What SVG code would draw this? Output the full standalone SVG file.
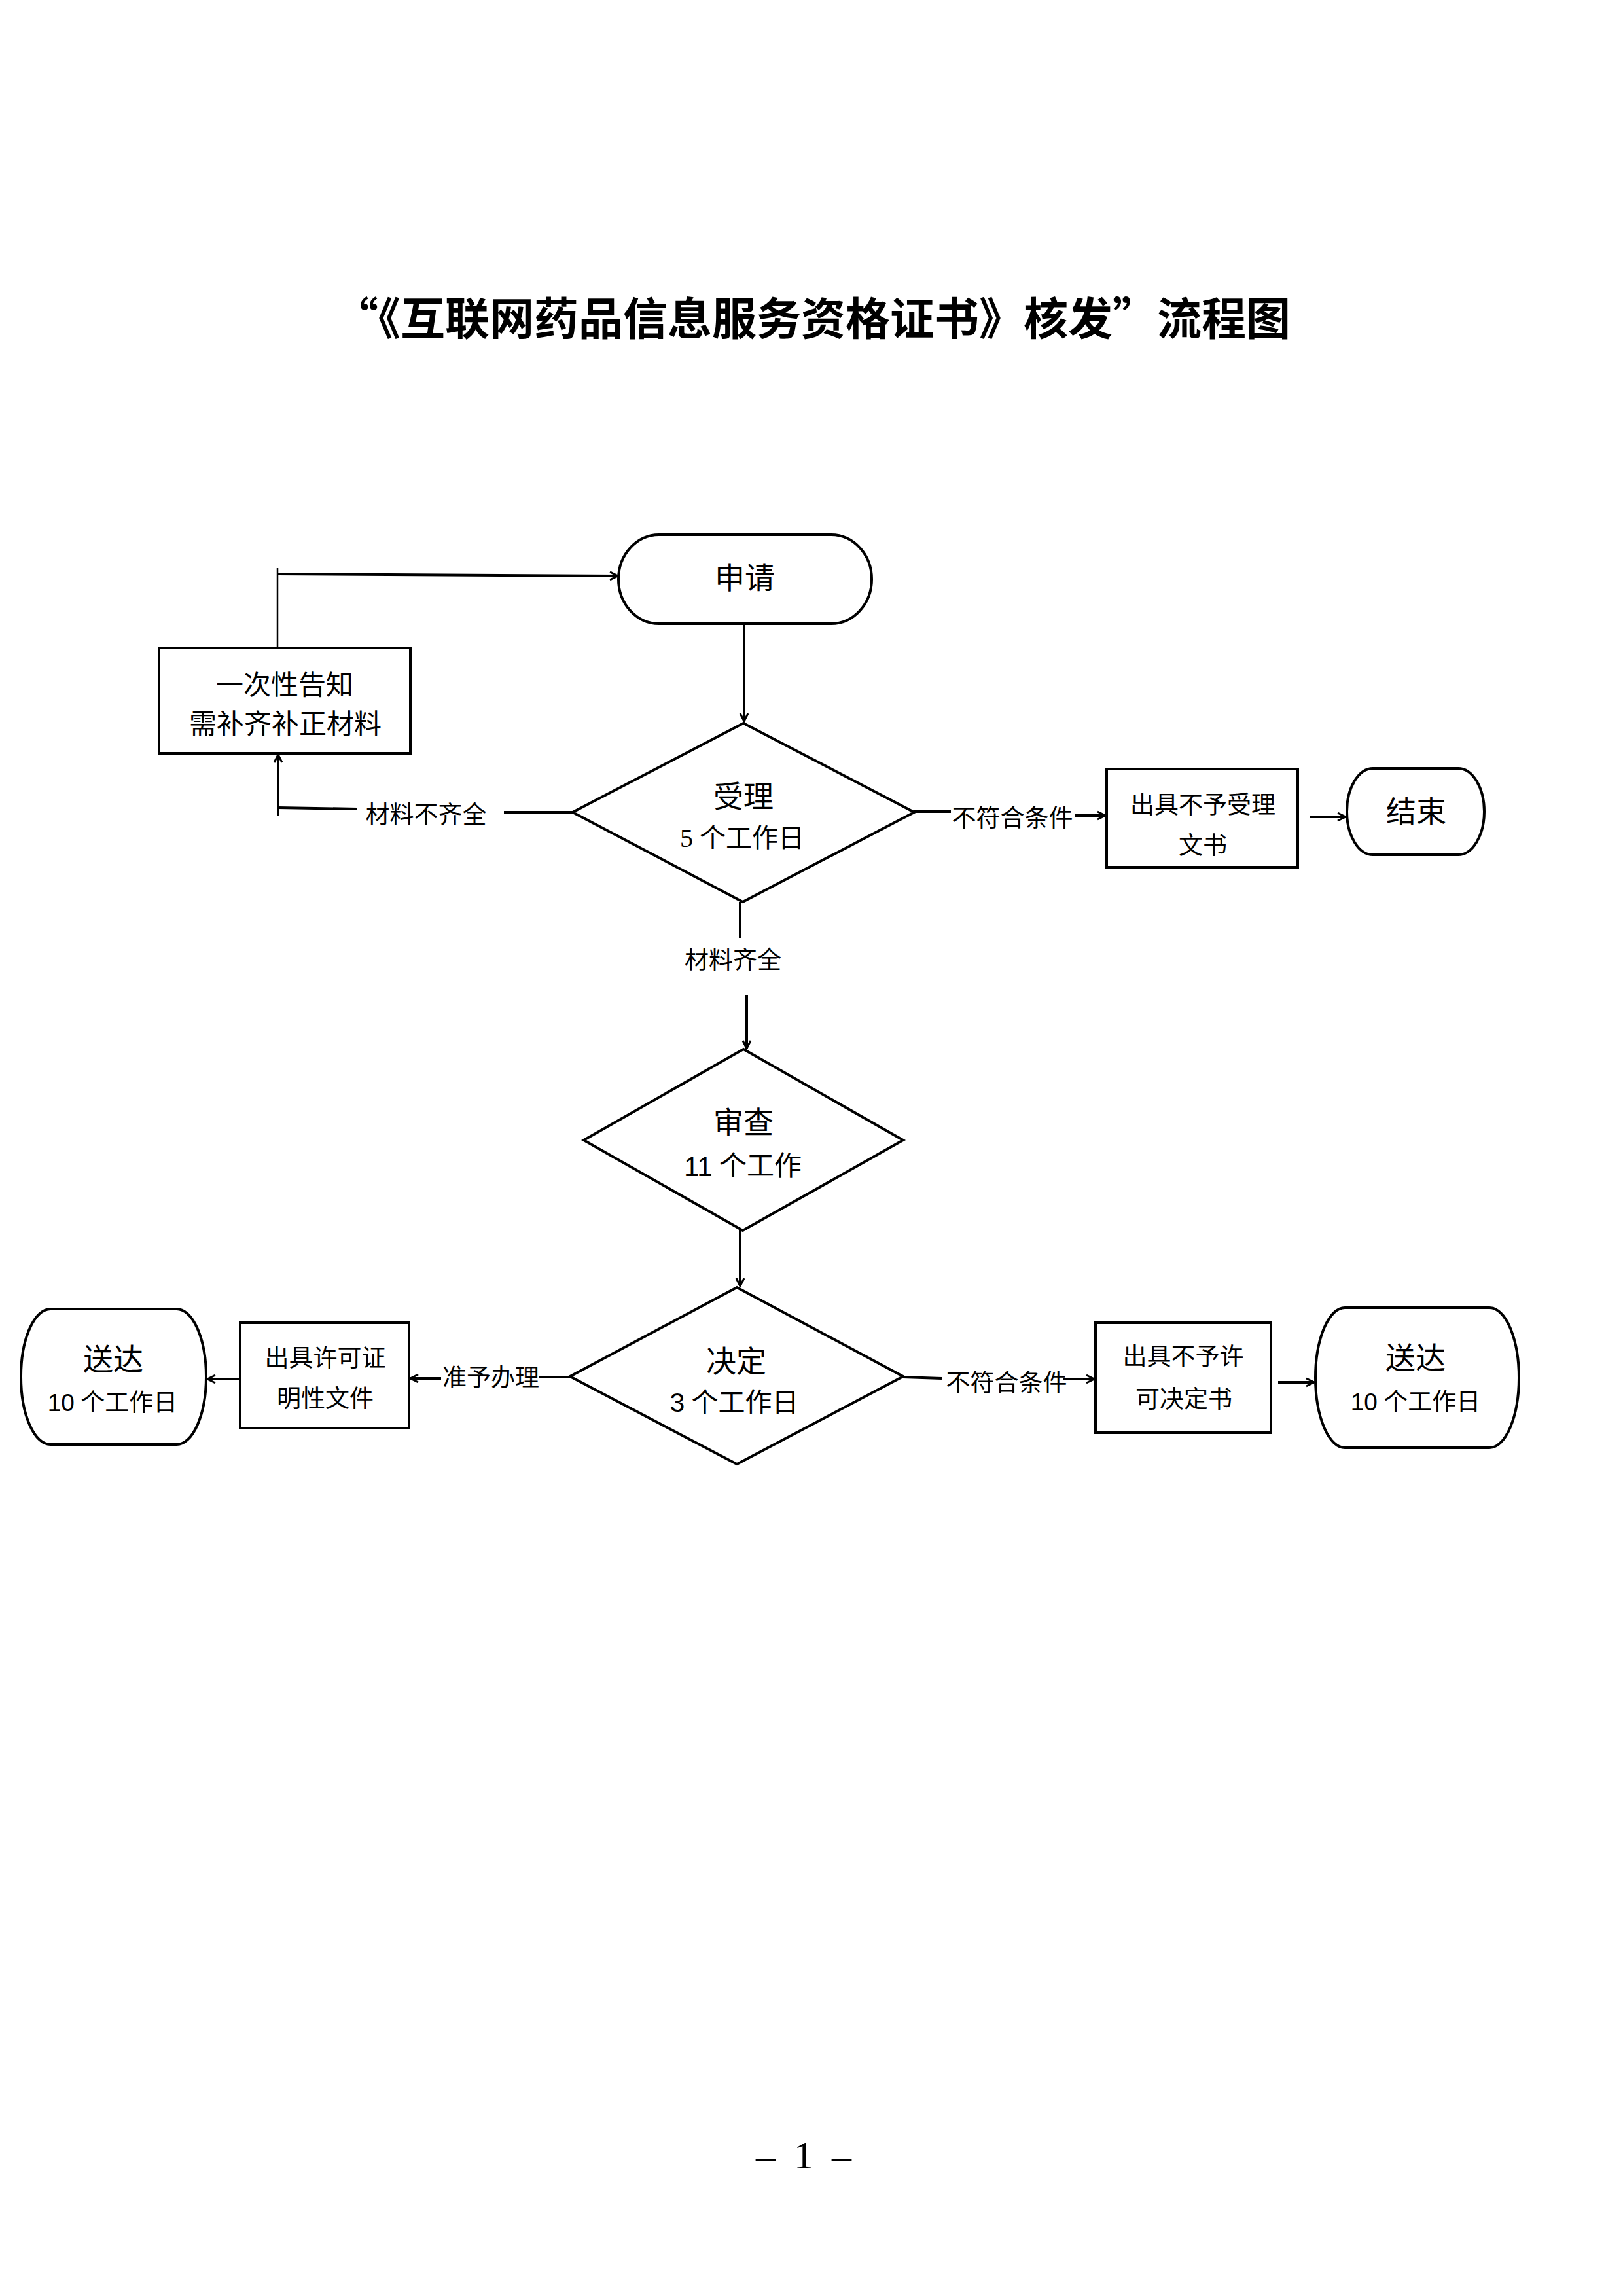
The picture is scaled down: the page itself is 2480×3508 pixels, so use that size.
<svg xmlns="http://www.w3.org/2000/svg" width="2480" height="3508" viewBox="0 0 2480 3508">
<style>
.bg{fill:#fff}
.shape{fill:#fff;stroke:#000;stroke-width:4}
.line{fill:none;stroke:#000;stroke-width:4}
.thin{fill:none;stroke:#000;stroke-width:2.5}
.cjk{font-family:"Liberation Serif","Noto Sans CJK SC",serif;fill:#000;text-anchor:middle;dominant-baseline:central}
.title{font-family:"Noto Sans CJK SC",sans-serif;font-weight:bold;font-size:68px;fill:#000;text-anchor:middle}
.big{font-size:46px}
.mid{font-size:42px}
.sm{font-size:37px}
.sans{font-family:"Liberation Sans","Noto Sans CJK SC",sans-serif}
.page{font-family:"Liberation Serif",serif;font-size:60px;fill:#000;text-anchor:middle}
</style>
<defs>
<marker id="arr" viewBox="0 0 16 16" refX="14" refY="8" markerWidth="16" markerHeight="16" markerUnits="userSpaceOnUse" orient="auto">
<path d="M2,2 L14,8 L2,14" fill="none" stroke="#000" stroke-width="3"/>
</marker>
</defs>
<rect class="bg" x="0" y="0" width="2480" height="3508"/>
<text class="title" x="1241" y="512">“《互联网药品信息服务资格证书》核发”流程图</text>

<g id="connectors">
<line class="thin" x1="1137" y1="955" x2="1137" y2="1102" marker-end="url(#arr)"/>
<line class="line" x1="877" y1="1241" x2="770" y2="1241"/>
<text class="cjk sm" x="651" y="1245">材料不齐全</text>
<line class="line" x1="546" y1="1236" x2="425" y2="1234"/>
<line class="thin" x1="425" y1="1246" x2="425" y2="1153" marker-end="url(#arr)"/>
<line class="thin" x1="424" y1="990" x2="424" y2="868"/>
<line class="line" x1="424" y1="877" x2="944" y2="880" marker-end="url(#arr)"/>
<line class="line" x1="1397" y1="1240" x2="1453" y2="1240"/>
<text class="cjk sm" x="1547" y="1250">不符合条件</text>
<line class="line" x1="1642" y1="1246" x2="1689" y2="1246" marker-end="url(#arr)"/>
<line class="line" x1="2002" y1="1248" x2="2056" y2="1248" marker-end="url(#arr)"/>
<line class="line" x1="1131" y1="1378" x2="1131" y2="1433"/>
<text class="cjk sm" x="1120" y="1467">材料齐全</text>
<line class="line" x1="1141" y1="1520" x2="1141" y2="1602" marker-end="url(#arr)"/>
<line class="line" x1="1131" y1="1880" x2="1131" y2="1965" marker-end="url(#arr)"/>
<line class="line" x1="871" y1="2104" x2="824" y2="2104"/>
<text class="cjk sm" x="750" y="2105">准予办理</text>
<line class="line" x1="674" y1="2106" x2="627" y2="2106" marker-end="url(#arr)"/>
<line class="line" x1="367" y1="2107" x2="317" y2="2107" marker-end="url(#arr)"/>
<line class="line" x1="1380" y1="2104" x2="1439" y2="2106"/>
<text class="cjk sm" x="1538" y="2113">不符合条件</text>
<line class="line" x1="1624" y1="2107" x2="1672" y2="2107" marker-end="url(#arr)"/>
<line class="line" x1="1953" y1="2112" x2="2008" y2="2112" marker-end="url(#arr)"/>
</g>

<g id="n-apply">
<rect class="shape" x="945" y="817" width="387" height="136" rx="62" ry="68"/>
<text class="cjk big" x="1138" y="883">申请</text>
</g>

<g id="n-notify">
<rect class="shape" x="243" y="990" width="384" height="161"/>
<text class="cjk mid" x="435" y="1047">一次性告知</text>
<text class="cjk mid" x="436" y="1107">需补齐补正材料</text>
</g>

<g id="n-accept">
<polygon class="shape" points="1136,1105 1397,1241 1135,1378 875,1241"/>
<text class="cjk big" x="1136" y="1217">受理</text>
<text class="cjk" style="font-size:40px" x="1134" y="1280"><tspan font-family="Liberation Serif">5</tspan> 个工作日</text>
</g>

<g id="n-reject-accept">
<rect class="shape" x="1691" y="1175" width="292" height="150"/>
<text class="cjk sm" x="1838" y="1230">出具不予受理</text>
<text class="cjk sm" x="1838" y="1292">文书</text>
</g>

<g id="n-end">
<rect class="shape" x="2058" y="1174" width="210" height="132" rx="40" ry="66"/>
<text class="cjk big" x="2164" y="1240">结束</text>
</g>

<g id="n-review">
<polygon class="shape" points="1136,1603 1380,1742 1135,1880 892,1742"/>
<text class="cjk big" x="1136" y="1715">审查</text>
<text class="cjk" style="font-size:42px" x="1135" y="1782"><tspan class="sans">11</tspan> 个工作</text>
</g>

<g id="n-decide">
<polygon class="shape" points="1126,1967 1380,2103 1126,2237 871,2103"/>
<text class="cjk big" x="1125" y="2080">决定</text>
<text class="cjk" style="font-size:41px" x="1122" y="2143"><tspan class="sans">3</tspan> 个工作日</text>
</g>

<g id="n-permit">
<rect class="shape" x="367" y="2021" width="258" height="161"/>
<text class="cjk sm" x="497" y="2075">出具许可证</text>
<text class="cjk sm" x="497" y="2137">明性文件</text>
</g>

<g id="n-deliver-left">
<rect class="shape" x="32" y="2000" width="283" height="207" rx="45" ry="103"/>
<text class="cjk big" x="173" y="2077">送达</text>
<text class="cjk" style="font-size:37px" x="172" y="2143"><tspan class="sans">10</tspan> 个工作日</text>
</g>

<g id="n-deny">
<rect class="shape" x="1674" y="2021" width="268" height="168"/>
<text class="cjk sm" x="1808" y="2073">出具不予许</text>
<text class="cjk sm" x="1809" y="2138">可决定书</text>
</g>

<g id="n-deliver-right">
<rect class="shape" x="2010" y="1998" width="311" height="214" rx="45" ry="107"/>
<text class="cjk big" x="2163" y="2075">送达</text>
<text class="cjk" style="font-size:37px" x="2163" y="2142"><tspan class="sans">10</tspan> 个工作日</text>
</g>

<text class="page" y="3313"><tspan x="1170">–</tspan><tspan x="1228"> 1 </tspan><tspan x="1286">–</tspan></text>
</svg>
